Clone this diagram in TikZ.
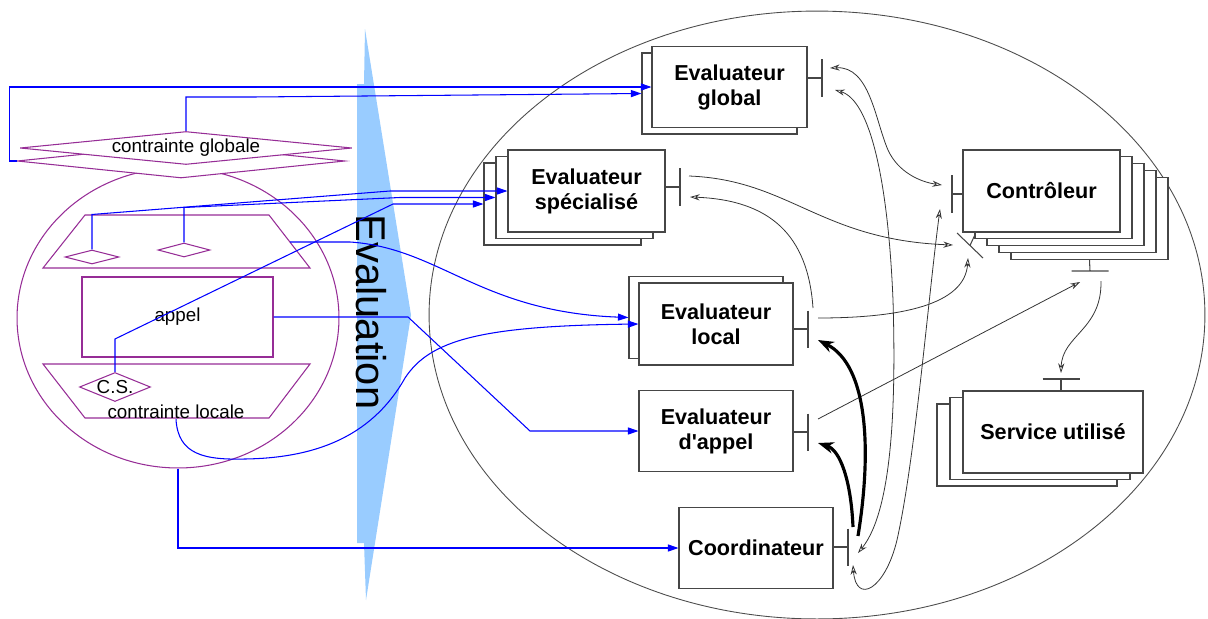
\documentclass[tikz,border=0pt]{standalone}
\usepackage{fontspec}
\setmainfont{Liberation Sans}[Ligatures=TeXOff]
\usetikzlibrary{shapes.geometric, arrows.meta, positioning, calc}
\definecolor{cpurple}{RGB}{150,45,150}
\definecolor{evalblue}{RGB}{153,204,255}
\definecolor{boxgray}{RGB}{70,70,70}
\newcommand{\evalfont}{\fontsize{12.3}{14.2}\selectfont\bfseries}
\newcommand{\cstrfont}{\fontsize{10.7}{12}\selectfont}

\begin{document}
\begin{tikzpicture}[x=0.02cm, y=-0.02cm,
    evalbox/.style={draw=boxgray, line width=0.6pt, fill=white, inner sep=0pt, minimum width=3.1cm, minimum height=1.62cm, align=center, font=\evalfont},
    port/.style={draw=boxgray, line width=0.6pt},
    cstr/.style={draw=cpurple, line width=0.6pt},
    flow/.style={draw=blue, line width=0.6pt, -{Triangle[length=6pt, width=4pt]}},
    link/.style={draw=black!80, line width=0.45pt, -{Stealth[open, length=5.5pt, width=3.5pt]}},
    twoway/.style={draw=black!80, line width=0.45pt, arrows={Stealth[open, length=5.5pt, width=3.5pt]-Stealth[open, length=5.5pt, width=3.5pt]}},
    strong/.style={draw=black, line width=1.8pt, -{Stealth[open, length=9pt, width=6.5pt]}}]
    \useasboundingbox (0,0) rectangle (1208,619);

    % Evaluation
    \fill[evalblue] (357,84) -- (364,84) -- (365,29) -- (411,315) -- (366,600) -- (364,543) -- (357,543) -- cycle;
    \node[rotate=-90, inner sep=0pt, font=\fontsize{23.7}{26}\selectfont] (evaltxt) at (371,312) {Evaluation};

    % systeme
    \node[draw=black!70, line width=0.5pt, ellipse, inner sep=0pt, minimum width=15.52cm, minimum height=12.16cm] (sys) at (817,315) {};

    % evaluateurs
    \node[evalbox] (global-1) at (719.5,93.5) {};
    \node[evalbox] (global) at (729.5,87) {Evaluateur\\global};
    \foreach \k in {2,1}
        \node[evalbox, minimum width=3.14cm, minimum height=1.64cm] (special-\k) at (586.5-12*\k, 191+6.5*\k) {};
    \node[evalbox, minimum width=3.14cm, minimum height=1.64cm] (special) at (586.5,191) {Evaluateur\\spécialisé};
    \node[evalbox, minimum width=3.08cm, minimum height=1.64cm] (local-1) at (706,317.5) {};
    \node[evalbox, minimum width=3.08cm, minimum height=1.64cm] (local) at (716,324) {Evaluateur\\local};
    \node[evalbox, minimum width=3.08cm] (appel) at (716,431) {Evaluateur\\d'appel};
    \node[evalbox, minimum width=3.08cm] (coord) at (756,548) {Coordinateur};

    % controleur et service
    \foreach \k in {4,3,2,1}
        \node[evalbox, minimum width=3.14cm, minimum height=1.64cm] (ctrl-\k) at (1041.5+12*\k, 191+6.8*\k) {};
    \node[evalbox, minimum width=3.14cm, minimum height=1.64cm] (ctrl) at (1041.5,191) {Contrôleur};
    \foreach \k in {2,1}
        \node[evalbox, minimum width=3.6cm, minimum height=1.64cm] (service-\k) at (1053-13*\k, 432+6.5*\k) {};
    \node[evalbox, minimum width=3.6cm, minimum height=1.64cm] (service) at (1053,432) {Service utilisé};

    % ports
    \coordinate (global-p) at (822,78);
    \coordinate (special-p) at (680,187);
    \coordinate (local-p) at (808,329);
    \coordinate (appel-p) at (808,432);
    \coordinate (coord-p) at (848,547);
    \coordinate (ctrl-pl) at (952,194);
    \coordinate (ctrl-pd) at (970,245.5);
    \coordinate (ctrl-pb) at (1090,271);
    \coordinate (service-p) at (1061,379);
    \draw[port] (global.east |- global-p) -- (global-p) ++(0,-19) -- ++(0,38);
    \draw[port] (special.east |- special-p) -- (special-p) ++(0,-19) -- ++(0,38);
    \draw[port] (local.east |- local-p) -- (local-p) ++(0,-18.5) -- ++(0,37);
    \draw[port] (appel.east |- appel-p) -- (appel-p) ++(0,-18.5) -- ++(0,37);
    \draw[port] (coord.east |- coord-p) -- (coord-p) ++(0,-18.5) -- ++(0,37);
    \draw[port] (ctrl.west |- ctrl-pl) -- (ctrl-pl) ++(0,-19) -- ++(0,38);
    \draw[port] ($(ctrl.south west)+(13,1)$) -- (ctrl-pd) ++(-13,-12.5) -- ++(26,25);
    \draw[port] (ctrl-4.south) -- (ctrl-pb) ++(-18.5,0) -- ++(37,0);
    \draw[port] (service-p |- service.north) -- (service-p) ++(-18.5,0) -- ++(37,0);

    % contraintes
    \node[cstr, ellipse, inner sep=0pt, minimum width=6.44cm, minimum height=6cm] (cloc) at (178,318) {};
    \draw[cstr] (85,215) -- (269,215) -- (310,268) -- (43,268) -- cycle;
    \coordinate (utrap-e) at (290,242);
    \draw[cstr] (43,364) -- (310,364) -- (269,418) -- (85,418) -- cycle;
    \node[cstr, inner sep=0pt, minimum width=3.82cm, minimum height=1.6cm, font=\cstrfont] (call) at (177.5,317) {appel};
    \node[cstr, diamond, inner sep=0pt, minimum width=1.08cm, minimum height=0.28cm] (d1) at (92,257) {};
    \node[cstr, diamond, inner sep=0pt, minimum width=1.04cm, minimum height=0.28cm] (d2) at (184,250) {};
    \node[cstr, diamond, aspect=2.45, inner sep=0pt, minimum width=1.42cm, minimum height=0.58cm, font=\cstrfont] (cs) at (115,387) {C.S.};
    \node[inner sep=0pt, font=\cstrfont] (cloct) at (176,412) {contrainte locale};
    \node[cstr, diamond, fill=white, inner sep=0pt, minimum width=6.56cm, minimum height=0.68cm] (cgB) at (181,161) {};
    \node[cstr, diamond, fill=white, aspect=9.8, inner sep=0pt, minimum width=6.64cm, minimum height=0.66cm, font=\cstrfont] (cgA) at (186,148) {contrainte globale};

    % flots d'evaluation
    \draw[flow] (cgB.west) -- ++(-7,0) |- (global.west);
    \draw[flow] (cgA.north) -- ++(0,-34) -- ++(70,0) -- (global-1.west);
    \draw[flow] (d1.north) -- ++(0,-35) -- (390,191) -- (special.west);
    \draw[flow] (d2.north) -- ++(0,-35) -- (400,197.5) -- (special-1.west);
    \draw[flow] (cs.north) -- ++(0,-33) -- (393,204) -- (special-2.west);
    \draw[flow] (utrap-e) -- (350,242) .. controls (440,248) and (480,312) .. (local-1.west);
    \draw[flow] (cloct.south) .. controls (178,455) and (205,460) .. (245,459)
        .. controls (310,458) and (370,440) .. (405,378)
        .. controls (430,340) and (480,326) .. (local.west);
    \draw[flow] (call.east) -- (408,317) -- (530,431) -- (appel.west);
    \draw[flow] (cloc.south) |- (coord.west);

    % liaisons
    \coordinate (g-in1) at (830,68);
    \coordinate (g-in2) at (835,90);
    \coordinate (s-out) at (689,176);
    \coordinate (s-in) at (690,197);
    \coordinate (l-out1) at (813,308);
    \coordinate (l-out2) at (818,318);
    \coordinate (l-in) at (818,340);
    \coordinate (a-out) at (818,419);
    \coordinate (a-in) at (818,443);
    \coordinate (c-a) at (853,527);
    \coordinate (c-b) at (858,536);
    \coordinate (c-c) at (858,553);
    \coordinate (c-d) at (853,565);
    \coordinate (k-l1) at (942,185);
    \coordinate (k-l2) at (940,209);
    \coordinate (k-d1) at (953,245);
    \coordinate (k-d2) at (968,258);
    \coordinate (k-b1) at (1080,282);
    \coordinate (k-b2) at (1101,281);
    \coordinate (v-in) at (1061,373);
    \draw[twoway] (g-in1) .. controls (870,66) and (875,120) .. (888,150) .. controls (898,172) and (920,182) .. (k-l1);
    \draw[twoway] (g-in2) .. controls (870,100) and (888,180) .. (893,300) .. controls (896,400) and (893,510) .. (c-c);
    \draw[link] (s-out) .. controls (790,180) and (820,240) .. (k-d1);
    \draw[link] (l-out1) .. controls (808,235) and (770,200) .. (s-in);
    \draw[link] (l-out2) .. controls (900,318) and (965,305) .. (k-d2);
    \draw[link] (a-out) -- (k-b1);
    \draw[link] (k-b2) .. controls (1102,330) and (1062,335) .. (v-in);
    \draw[twoway] (c-d) .. controls (856,605) and (885,590) .. (897,540) .. controls (915,460) and (928,300) .. (k-l2);
    \draw[strong] (c-a) .. controls (851,480) and (840,450) .. (a-in);
    \draw[strong] (c-b) .. controls (872,450) and (868,365) .. (l-in);
\end{tikzpicture}
\end{document}
